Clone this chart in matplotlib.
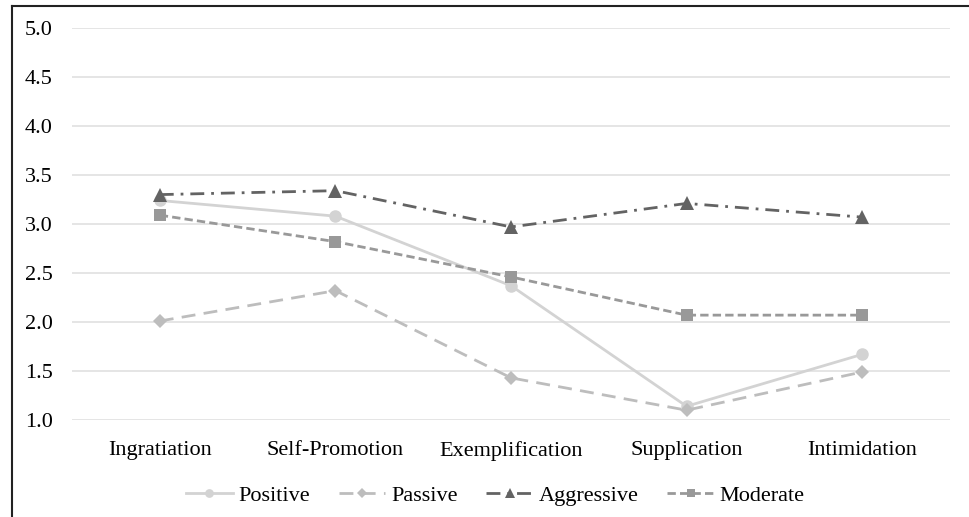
import matplotlib.pyplot as plt
from matplotlib.lines import Line2D

categories = ["Ingratiation", "Self-Promotion", "Exemplification", "Supplication", "Intimidation"]
positive = [3.24, 3.08, 2.37, 1.14, 1.67]
passive = [2.01, 2.32, 1.43, 1.10, 1.49]
aggressive = [3.30, 3.34, 2.97, 3.21, 3.07]
moderate = [3.09, 2.82, 2.46, 2.07, 2.07]
yticks = [1.0, 1.5, 2.0, 2.5, 3.0, 3.5, 4.0, 4.5, 5.0]

plt.rcParams["font.family"] = ["Liberation Serif", "DejaVu Serif"]

fig = plt.figure(figsize=(9.7, 5.17), dpi=100)
ax = fig.add_axes([72 / 970, 1 - 420 / 517, (950 - 72) / 970, (420 - 28) / 517])

x = list(range(len(categories)))
series = [
    ("Positive", positive, "#d3d3d3", "-", "o", 9),
    ("Passive", passive, "#bdbdbd", (0, (5, 3)), "D", 7.5),
    ("Aggressive", aggressive, "#636363", (0, (5, 2.5, 1, 2.5)), "^", 10),
    ("Moderate", moderate, "#999999", (0, (3, 1.5)), "s", 9),
]
for label, vals, color, ls, marker, ms in series:
    ax.plot(x, vals, color=color, linestyle=ls, linewidth=2, marker=marker,
            markersize=ms, markeredgewidth=0, label=label)

ax.set_xlim(-0.5, len(categories) - 0.5)
ax.set_ylim(1.0, 5.0)
ax.set_yticks(yticks)
ax.set_yticklabels([f"{v:.1f}" for v in yticks])
ax.set_xticks(x)
ax.set_xticklabels(categories)
ax.tick_params(length=0, labelsize=16, colors="#000000")
ax.tick_params(axis="y", pad=14)
ax.tick_params(axis="x", pad=15)
ax.grid(axis="y", color="#e3e3e3", linewidth=1.3)
ax.set_axisbelow(True)
for s in ax.spines.values():
    s.set_visible(False)

ax.legend(loc="upper center", bbox_to_anchor=(0.482, -0.115), ncol=4, frameon=False,
          fontsize=16, handlelength=2.1, columnspacing=1.3, handletextpad=0.25,
          markerscale=0.7)

# frame border (left and top only, the rest is cropped)
fig.add_artist(Line2D([12 / 970, 12 / 970], [0, 1 - 6 / 517], color="#222222", linewidth=1.5))
fig.add_artist(Line2D([12 / 970, 1], [1 - 6 / 517, 1 - 6 / 517], color="#222222", linewidth=1.5))

fig.savefig("out.png", dpi=100)
